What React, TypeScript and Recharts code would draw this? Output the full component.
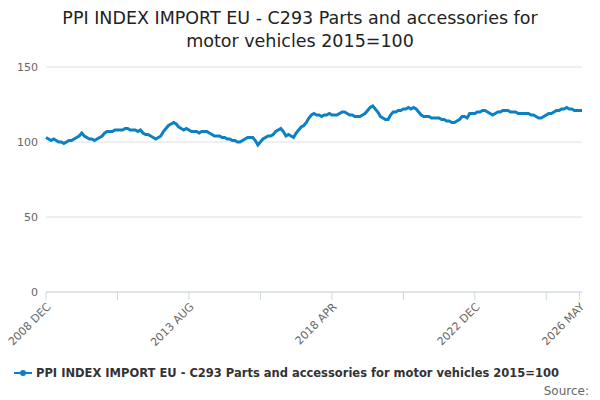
import { LineChart, Line, XAxis, YAxis, CartesianGrid } from 'recharts'

const MONTHS = ['JAN', 'FEB', 'MAR', 'APR', 'MAY', 'JUN', 'JUL', 'AUG', 'SEP', 'OCT', 'NOV', 'DEC']

const values = [
  103, 102, 101, 102, 101, 100, 100, 99, 100, 101, 101, 102,
  103, 104, 106, 104, 103, 102, 102, 101, 102, 103, 104, 106,
  107, 107, 107, 108, 108, 108, 108, 109, 109, 108, 108, 108,
  107, 108, 106, 105, 105, 104, 103, 102, 103, 104, 107, 109,
  111, 112, 113, 112, 110, 109, 108, 109, 108, 107, 107, 107,
  106, 107, 107, 107, 106, 105, 104, 104, 104, 103, 103, 102,
  102, 101, 101, 100, 100, 101, 102, 103, 103, 103, 101, 98,
  100, 102, 103, 104, 104, 105, 107, 108, 109, 107, 104, 105,
  104, 103, 106, 108, 110, 111, 113, 116, 118, 119, 118, 118,
  117, 118, 118, 119, 118, 118, 118, 119, 120, 120, 119, 118,
  118, 117, 117, 117, 118, 119, 121, 123, 124, 122, 120, 117,
  116, 115, 115, 118, 120, 120, 121, 121, 122, 122, 123, 122,
  123, 122, 120, 118, 117, 117, 117, 116, 116, 116, 116, 115,
  115, 114, 114, 113, 113, 114, 115, 117, 117, 116, 119, 119,
  119, 120, 120, 121, 121, 120, 119, 118, 119, 120, 120, 121,
  121, 121, 120, 120, 120, 119, 119, 119, 119, 119, 118, 118,
  117, 116, 116, 117, 118, 119, 119, 120, 121, 121, 122, 122,
  123, 122, 122, 121, 121, 121, 121,
]

// month labels starting 2008 DEC
const labels = values.map((_, i) => {
  const m = 11 + i
  return `${2008 + Math.floor(m / 12)} ${MONTHS[m % 12]}`
})

const shownLabels = ['2008 DEC', '2013 AUG', '2018 APR', '2022 DEC', '2026 MAY']
const tickLabels = labels.filter((_, i) => i % 28 === 0).concat(['2026 MAY'])
const yTicks = [0, 50, 100, 150]

const data = labels.map((label, i) => ({ label, value: values[i] }))

const font = '"DejaVu Sans", Verdana, sans-serif'
const blue = '#0b80c3'

export default function App() {
  return (
    <div style={{ position: 'absolute', left: 0, top: 0, width: 600, height: 400, background: '#fff', fontFamily: font }}>
      <div style={{ position: 'absolute', top: 7, left: 0, width: 600, textAlign: 'center', fontSize: 17.5, lineHeight: '23px', color: '#222' }}>
        PPI INDEX IMPORT EU - C293 Parts and accessories for<br />motor vehicles 2015=100
      </div>
      <LineChart width={600} height={400} data={data} margin={{ top: 67, right: 18, bottom: 48, left: 6 }}>
        <CartesianGrid vertical={false} stroke="#e0e0e0" />
        <XAxis
          dataKey="label"
          ticks={tickLabels}
          interval={0}
          tickFormatter={(v: string) => (shownLabels.includes(v) ? v : '')}
          angle={-45}
          textAnchor="end"
          tick={{ fontSize: 11, fill: '#666', fontFamily: font }}
          stroke="#ccd6eb"
          tickSize={8}
          height={60}
        />
        <YAxis
          ticks={yTicks}
          domain={[0, 150]}
          axisLine={false}
          tickLine={false}
          width={40}
          tick={{ fontSize: 11, fill: '#666', fontFamily: font }}
        />
        <Line dataKey="value" stroke={blue} strokeWidth={3} dot={false} isAnimationActive={false} />
      </LineChart>
      <div style={{ position: 'absolute', top: 366, left: 14, fontSize: 11.5, fontWeight: 'bold', color: '#333', display: 'flex', alignItems: 'center' }}>
        <svg width={18} height={10} style={{ marginRight: 4 }}>
          <line x1={0} y1={5} x2={18} y2={5} stroke={blue} strokeWidth={2} />
          <circle cx={9} cy={5} r={3} fill={blue} />
        </svg>
        PPI INDEX IMPORT EU - C293 Parts and accessories for motor vehicles 2015=100
      </div>
      <div style={{ position: 'absolute', top: 384, right: 11, fontSize: 12, color: '#666' }}>Source:</div>
    </div>
  )
}
